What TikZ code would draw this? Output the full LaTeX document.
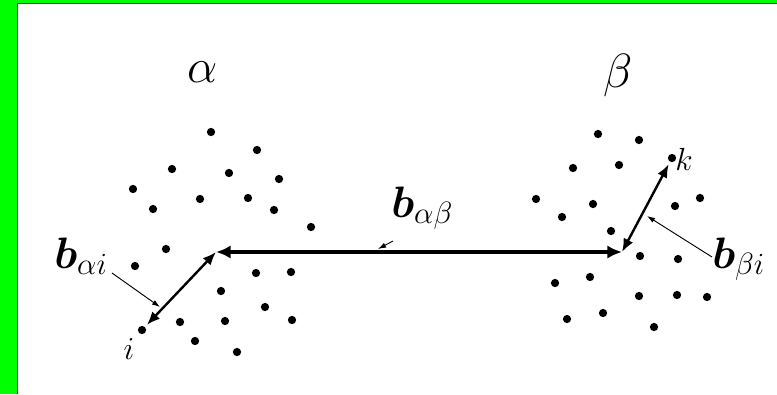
\RequirePackage{fix-cm}
\documentclass[tikz,border=0pt]{standalone}
\usepackage{amsmath,bm}
\usetikzlibrary{arrows.meta}
\definecolor{framegreen}{RGB}{0,255,0}
\definecolor{framedark}{RGB}{20,90,20}
\tikzset{
  dot/.style={circle, fill=black, inner sep=0pt, minimum size=6.2pt},
  bond/.style={{Latex[length=11pt,width=10pt]}-{Latex[length=11pt,width=10pt]}, line width=2.4pt},
  subbond/.style={{Latex[length=10pt,width=8pt]}-{Latex[length=10pt,width=8pt]}, line width=1.8pt, shorten >=2pt},
  pointer/.style={-{Latex[length=6pt,width=4pt]}, line width=0.7pt},
  phase/.style={font=\fontsize{36}{36}\selectfont},
  vlabel/.style={font=\fontsize{33}{33}\selectfont, inner sep=0pt, anchor=base west},
  idx/.style={font=\fontsize{24}{24}\selectfont, inner sep=0pt}
}
\begin{document}
\begin{tikzpicture}[x=0.75pt, y=-0.75pt]
  \useasboundingbox (0,0) rectangle (777,394);
  % 边框
  \fill[white] (0,0) rectangle (777,394);
  \fill[framegreen] (0,0) rectangle (17,394);
  \fill[framegreen] (0,0) rectangle (777,3);
  \draw[framedark, line width=0.9pt] (17.5,394) -- (17.5,3.5) -- (777,3.5);

  % 两相
  \node[phase] (alpha) at (203,72) {$\alpha$};
  \node[phase] (beta) at (618,75) {$\beta$};

  % 相 alpha 的原子
  \foreach \p in {(211,132),(257,150),(172,169),(229,173),(279,179),(133,189),
                  (200,199),(248,198),(153,209),(274,210),(311,227),(166,249),
                  (135,266),(256,273),(291,272),(221,291),(265,307),(180,322),
                  (225,321),(292,320),(195,341),(237,352)}
    \node[dot] at \p {};
  \node[dot] (i) at (142,330) {};
  \node[idx] (ilab) at (129,349) {$i$};

  % 相 beta 的原子
  \foreach \p in {(598,134),(639,140),(573,168),(619,165),(536,199),(593,204),
                  (562,217),(675,206),(700,198),(611,231),(640,256),(678,259),
                  (590,277),(555,283),(639,296),(677,295),(707,297),(567,319),
                  (603,313),(654,327)}
    \node[dot] at \p {};
  \node[dot] (k) at (672,158) {};
  \node[idx] (klab) at (684,159) {$k$};

  % 键矢量
  \coordinate (ca) at (216,252);
  \coordinate (cb) at (622,252);
  \draw[bond] (ca) -- (cb);
  \draw[subbond] (ca) -- (i);
  \draw[subbond] (cb) -- (k);

  % 标注
  \node[vlabel] (bai) at (54,268) {$\bm{b}_{\alpha i}$};
  \node[vlabel] (bab) at (391,217) {$\bm{b}_{\alpha\beta}$};
  \node[vlabel] (bbi) at (712,268) {$\bm{b}_{\beta i}$};
  \coordinate (pai0) at (112,273);
  \coordinate (pai1) at (160,307);
  \coordinate (pab0) at (393,241);
  \coordinate (pab1) at (378,249);
  \coordinate (pbi0) at (712,257);
  \coordinate (pbi1) at (647,216);
  \draw[pointer] (pai0) -- (pai1);
  \draw[pointer] (pab0) -- (pab1);
  \draw[pointer] (pbi0) -- (pbi1);
\end{tikzpicture}
\end{document}
